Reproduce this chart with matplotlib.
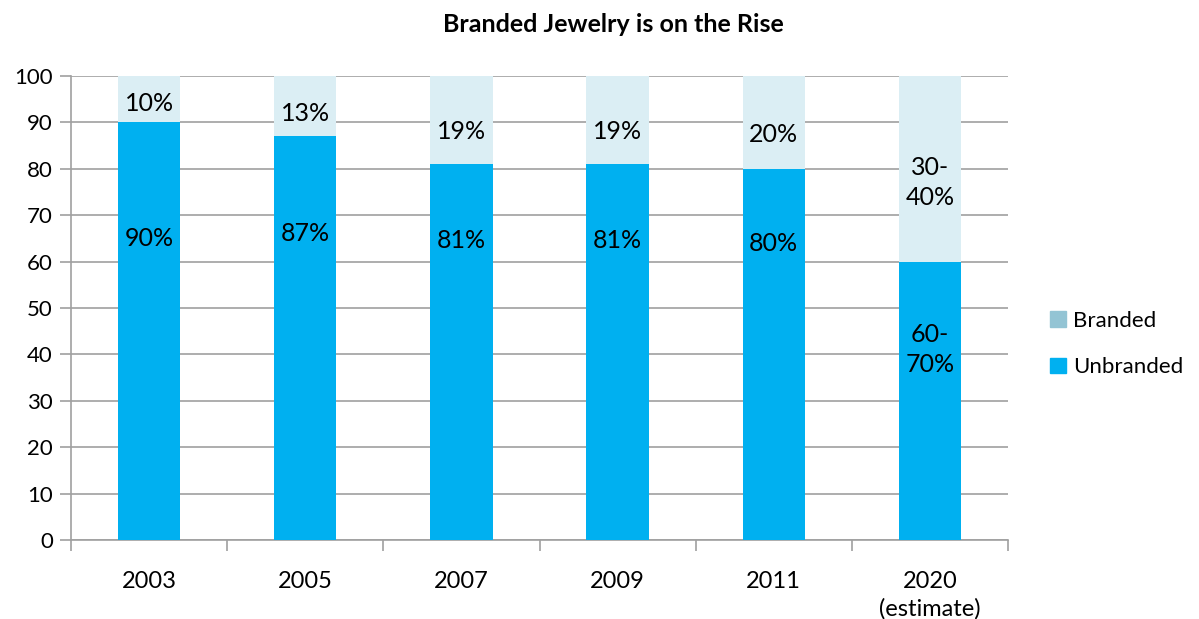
import matplotlib
matplotlib.use("Agg")
import matplotlib.pyplot as plt
import matplotlib.patches as mpatches
import numpy as np

plt.rcParams["font.family"] = ["Lato", "DejaVu Sans"]

years = ["2003", "2005", "2007", "2009", "2011", "2020\n(estimate)"]
unbranded = [90, 87, 81, 81, 80, 60]
branded = [10, 13, 19, 19, 20, 40]
unbranded_labels = ["90%", "87%", "81%", "81%", "80%", "60-\n70%"]
branded_labels = ["10%", "13%", "19%", "19%", "20%", "30-\n40%"]
# label heights as placed in the original chart
unbranded_label_y = [65, 66, 64.5, 64.5, 64, 41]
branded_label_y = [94, 92, 88, 88, 87.5, 77]

C_UNB = "#00B0F0"
C_BR = "#DBEEF4"
C_BR_LEG = "#93C4D4"
GRID = "#A0A0A0"

fig = plt.figure(figsize=(11.99, 6.19), dpi=100)
ax = fig.add_axes([71 / 1199, 1 - 540 / 619, (1008 - 71) / 1199, (540 - 76) / 619])

x = np.arange(len(years))
w = 0.4
ax.bar(x, unbranded, width=w, color=C_UNB, zorder=3)
ax.bar(x, branded, width=w, bottom=unbranded, color=C_BR, zorder=3)

for i in range(len(years)):
    ax.text(x[i], unbranded_label_y[i], unbranded_labels[i], ha="center", va="center",
            fontsize=18, zorder=4, linespacing=1.35)
    ax.text(x[i], branded_label_y[i], branded_labels[i], ha="center", va="center",
            fontsize=18, zorder=4, linespacing=1.35)

ax.set_xlim(-0.5, len(years) - 0.5)
ax.set_ylim(0, 100)
ax.set_yticks(range(0, 101, 10))
ax.yaxis.grid(True, color=GRID, lw=1.2, zorder=0)
ax.tick_params(axis="y", length=8, width=1.2, color=GRID, labelsize=16, pad=5)
ax.set_xticks(x)
ax.set_xticklabels(years, fontsize=17, linespacing=1.35)
ax.set_xticks(np.arange(-0.5, len(years)), minor=True)
ax.tick_params(axis="x", which="major", length=0, pad=22)
ax.tick_params(axis="x", which="minor", length=8, width=1.2, color=GRID)
for s in ["top", "right"]:
    ax.spines[s].set_visible(False)
for s in ["left", "bottom"]:
    ax.spines[s].set_color(GRID)
    ax.spines[s].set_linewidth(1.2)

fig.text(613 / 1199, 1 - 25 / 619, "Branded Jewelry is on the Rise", fontsize=18,
         fontweight="bold", ha="center", va="center")

handles = [mpatches.Patch(color=C_BR_LEG, label="Branded"),
           mpatches.Patch(color=C_UNB, label="Unbranded")]
fig.legend(handles=handles, loc="center left", bbox_to_anchor=(1050 / 1199, 1 - 344 / 619),
           frameon=False, fontsize=16, handlelength=0.7, handleheight=0.7,
           handletextpad=0.35, labelspacing=1.2, borderpad=0, borderaxespad=0)

fig.savefig("out.png", dpi=100)
plt.close()
